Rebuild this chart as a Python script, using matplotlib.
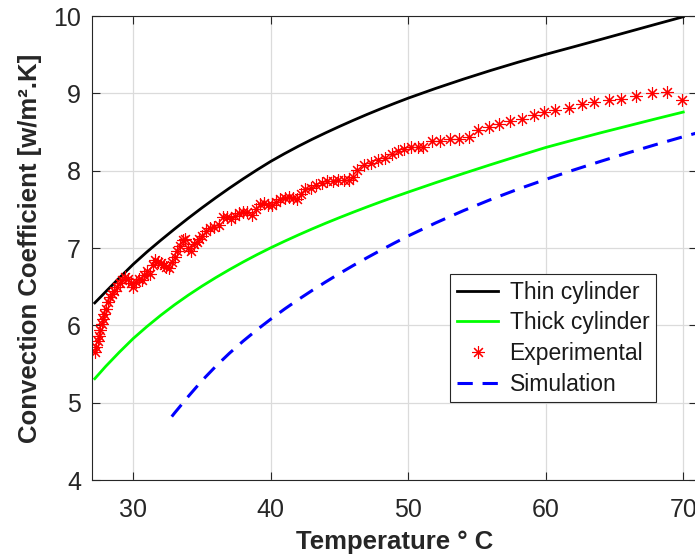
import matplotlib
matplotlib.use("Agg")
import matplotlib.pyplot as plt

# ---- data ----
t_thin = [27.2, 28, 29, 30, 31, 32, 33, 34, 35, 36, 37, 38, 39, 40, 41, 42, 43, 44, 45,
          46, 47, 48, 49, 50, 52, 54, 56, 58, 60, 62, 64, 66, 68, 70]
h_thin = [6.29, 6.435, 6.615, 6.79, 6.95, 7.10, 7.245, 7.385, 7.52, 7.65, 7.775, 7.895,
          8.01, 8.12, 8.22, 8.315, 8.405, 8.49, 8.572, 8.651, 8.727, 8.80, 8.87, 8.938,
          9.064, 9.183, 9.296, 9.403, 9.504, 9.60, 9.697, 9.795, 9.893, 9.99]

t_thick = [27.2, 28, 29, 30, 31, 32, 33, 34, 35, 36, 37, 38, 39, 40, 41, 42, 43, 44, 45,
           46, 47, 48, 49, 50, 52, 54, 56, 58, 60, 62, 64, 66, 68, 70]
h_thick = [5.31, 5.47, 5.655, 5.83, 5.985, 6.13, 6.265, 6.39, 6.507, 6.617, 6.721, 6.82,
           6.914, 7.003, 7.087, 7.168, 7.246, 7.321, 7.393, 7.463, 7.531, 7.597, 7.661,
           7.723, 7.845, 7.963, 8.078, 8.19, 8.30, 8.396, 8.49, 8.58, 8.67, 8.758]

t_sim = [32.8, 33, 34, 35, 36, 37, 38, 39, 40, 41, 42, 43, 44, 45, 46, 47, 48, 49, 50,
         52, 54, 56, 58, 60, 62, 64, 66, 68, 70, 71]
h_sim = [4.82, 4.865, 5.08, 5.285, 5.47, 5.64, 5.797, 5.943, 6.08, 6.21, 6.333, 6.45,
         6.562, 6.67, 6.774, 6.874, 6.971, 7.065, 7.156, 7.325, 7.482, 7.627, 7.762,
         7.887, 8.007, 8.121, 8.231, 8.337, 8.439, 8.488]

t_exp = [27.2, 27.3, 27.4, 27.5, 27.6, 27.7, 27.8, 27.9, 28.0, 28.15, 28.3, 28.45, 28.6,
         28.8, 29.0, 29.2, 29.4, 29.6, 29.8, 30.0, 30.2, 30.4, 30.6, 30.8, 31.0, 31.2,
         31.4, 31.6, 31.8, 32.0, 32.2, 32.4, 32.6, 32.8, 33.0, 33.2, 33.4, 33.6, 33.8,
         34.0, 34.2, 34.4, 34.6, 34.8, 35.0, 35.3, 35.6, 35.9, 36.2, 36.5, 36.8, 37.1,
         37.4, 37.7, 38.0, 38.3, 38.6, 38.9, 39.2, 39.5, 39.8, 40.1, 40.4, 40.7, 41.0,
         41.3, 41.6, 41.9, 42.2, 42.5, 42.9, 43.3, 43.7, 44.1, 44.5, 44.9, 45.3, 45.7,
         46.0, 46.3, 46.8, 47.3, 47.8, 48.3, 48.8, 49.25, 49.7, 50.2, 50.7, 51.1, 51.7,
         52.3, 53.0, 53.7, 54.4, 55.1, 55.85, 56.6, 57.4, 58.3, 59.15, 59.9, 60.7, 61.7,
         62.6, 63.5, 64.6, 65.5, 66.6, 67.7, 68.8, 69.9]
h_exp = [5.66, 5.72, 5.80, 5.86, 5.94, 6.02, 6.08, 6.15, 6.21, 6.30, 6.36, 6.41, 6.45,
         6.50, 6.55, 6.58, 6.62, 6.60, 6.55, 6.50, 6.56, 6.60, 6.58, 6.65, 6.70, 6.66,
         6.78, 6.84, 6.82, 6.80, 6.78, 6.76, 6.74, 6.82, 6.88, 6.96, 7.03, 7.10, 7.12,
         7.00, 6.96, 7.05, 7.08, 7.12, 7.15, 7.22, 7.26, 7.27, 7.30, 7.40, 7.40, 7.38,
         7.42, 7.45, 7.47, 7.46, 7.43, 7.50, 7.57, 7.58, 7.56, 7.55, 7.60, 7.64, 7.65,
         7.66, 7.65, 7.63, 7.70, 7.76, 7.78, 7.81, 7.84, 7.86, 7.87, 7.88, 7.88, 7.88,
         7.92, 8.01, 8.07, 8.10, 8.14, 8.17, 8.21, 8.25, 8.28, 8.30, 8.31, 8.31, 8.38,
         8.39, 8.41, 8.41, 8.43, 8.52, 8.57, 8.60, 8.64, 8.67, 8.72, 8.76, 8.79, 8.81,
         8.86, 8.89, 8.92, 8.93, 8.97, 9.00, 9.02, 8.92]

x_ticks = [30, 40, 50, 60, 70]
y_ticks = [4, 5, 6, 7, 8, 9, 10]
labels = ["Thin cylinder", "Thick cylinder", "Experimental", "Simulation"]

# ---- style ----
plt.rcParams["font.family"] = ["Liberation Sans", "DejaVu Sans"]
dark = (0.15, 0.15, 0.15)

W, H = 695, 556
fig = plt.figure(figsize=(W / 100, H / 100), dpi=100)
left, right, top, bottom = 92, 697, 16, 480
ax = fig.add_axes([left / W, 1 - bottom / H, (right - left) / W, (bottom - top) / H])

ax.plot(t_thin, h_thin, color="black", lw=2.0, label=labels[0])
ax.plot(t_thick, h_thick, color=(0, 1, 0), lw=2.0, label=labels[1])
ax.plot(t_exp, h_exp, linestyle="none", marker=(8, 2, 0), markersize=9,
        markeredgewidth=0.8, color="red", label=labels[2])
ax.plot(t_sim, h_sim, color="blue", lw=2.2, dashes=(5, 3.2), label=labels[3])

ax.set_xlim(27, 71)
ax.set_ylim(4, 10)
ax.set_xticks(x_ticks)
ax.set_yticks(y_ticks)
ax.grid(True, color=(0.86, 0.86, 0.86), lw=0.9)
ax.set_axisbelow(True)
ax.tick_params(direction="in", length=6, width=0.8, colors=dark, labelsize=18,
               top=True, right=True)
ax.tick_params(axis="x", pad=13)
ax.tick_params(axis="y", pad=8)
for s in ax.spines.values():
    s.set_color(dark)
    s.set_linewidth(0.8)

ax.set_xlabel("Temperature ° C", fontsize=18.5, fontweight="bold", color=dark, labelpad=6)
ax.set_ylabel("Convection Coefficient [w/m².K]", fontsize=18.5, fontweight="bold",
              color=dark, labelpad=8)

leg = ax.legend(loc="upper left", bbox_to_anchor=(450 / W, 1 - 274 / H),
                bbox_transform=fig.transFigure, borderaxespad=0, fontsize=16.5,
                frameon=True, fancybox=False, framealpha=1, edgecolor=dark,
                handlelength=1.8, handletextpad=0.5, labelspacing=0.33,
                borderpad=0.3)
leg.get_frame().set_linewidth(0.8)
for t in leg.get_texts():
    t.set_color((0.1, 0.1, 0.1))

fig.savefig("out.png", dpi=100)
